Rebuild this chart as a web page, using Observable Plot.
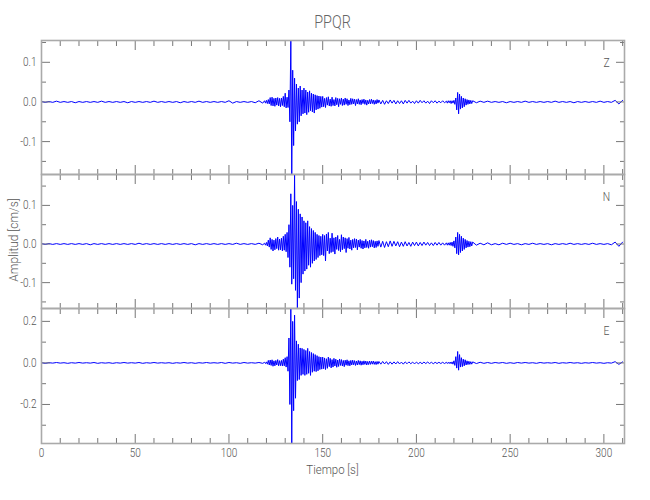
<!DOCTYPE html>
<html><head><meta charset="utf-8">
<script src="https://cdn.jsdelivr.net/npm/d3@7"></script>
<script src="https://cdn.jsdelivr.net/npm/@observablehq/plot@0.6"></script>
<style>
body{margin:0;background:#fff;}
#wrap{position:relative;width:650px;height:500px;font-family:Roboto,"DejaVu Sans",sans-serif;font-weight:300;color:#555;}
#title{position:absolute;left:41px;width:583px;top:11px;text-align:center;font-size:18px;line-height:22px;transform:scaleX(0.8);color:#666;}
.panel{position:absolute;left:0;}
#ylab{position:absolute;left:13px;top:240px;transform:translate(-50%,-50%) rotate(-90deg) scaleX(0.92);font-size:13px;white-space:nowrap;}
#xlab{position:absolute;left:41px;width:583px;top:462px;text-align:center;font-size:13px;transform:scaleX(0.88);}
</style></head>
<body><div id="wrap"><div id="title">PPQR</div><div id="ylab">Amplitud [cm/s]</div><div id="xlab">Tiempo [s]</div></div>
<script>
// Sample times (s): quiet parts every 2 s, event windows every 0.5 s, late coda every 1 s
const times = [].concat(
  d3.range(0, 120, 2), d3.range(119, 150.5, 0.5), d3.range(150.5, 180.5, 0.5),
  d3.range(181, 217, 1), d3.range(216.5, 230.5, 0.5), d3.range(232, 311, 2));

// Peak amplitudes, in units of 0.001 cm/s
const zAmp = [
  1,-1,1,-1,2,-1,1,-1,1,-2, 1,-1,1,-1,1,-1,2,-1,1,-1, 1,-1,1,-2,1,-1,1,-1,1,-1,
  2,-1,1,-1,1,-1,1,-2,1,-1, 1,-1,2,-1,1,-1,1,-1,1,-1, 3,-3,1,-1,1,-1,1,-2,3,-3,
  3,-3,4,-4,6,-5, 11,-9,12,-10,9,-11,10,-8,11,-10,9,-12, 10,-9,14,-12,22,-15,12,-14,
  30,-50,155,-183,80,-110,60,-73, 45,-56,35,-50,40,-35,30,-30, 35,-28,30,-32,25,-26,28,-22,
  22,-25,20,-28,18,-20,16,-18, 15,-16,14,-13,14,
  -12,9,-14,11,-8,13,-10,7,-11,12, -9,6,-10,11,-7,9,-12,8,-6,10, -9,7,-8,10,-6,8,-9,5,-7,9,
  -6,8,-5,7,-9,6,-5,8,-6,5, -7,6,-4,7,-6,5,-8,4,-5,6, -5,7,-4,5,-6,4,-5,6,-3,5,
  -5,4,-6,3,-4,5,-3,4,-5,3, -4,3,-5,4,-3,4,-3,2,-4,3, -3,4,-2,3,-3,2,-4,3,-2,3, -3,2,-2,3,-2,2,
  -3,3,-2,3,-4,3,-3, 4,-6,10, -20,24,-30,20,-18, 14,-15,10,-12,8, -8,6,-6,5,-5,4,-4,3,
  -2,2,-1,2,-1,1,-1,1,-2,1, -1,1,-1,2,-1,1,-1,1,-1,1, -1,2,-1,1,-1,1,-2,1,-1,1, -1,1,-1,2,-1,1,-1,4,-5,4
];
const nAmp = [
  1,-1,1,-1,1,-1,1,-1,1,-1, 1,-1,1,-2,1,-1,1,-1,1,-1, 1,-1,1,-1,1,-1,2,-1,1,-1,
  1,-1,1,-1,1,-1,1,-1,1,-1, 1,-2,1,-1,1,-1,1,-1,1,-1, 1,-1,2,-1,1,-1,1,-1,2,-2,
  2,-3,4,-5,10,-8, 16,-14,12,-18,10,-15,14,-12,18,-16,13,-15, 15,-18,20,-16,25,-20,30,-35,
  50,-60,130,-104,100,-90,180,-120, 110,-167,90,-140,78,-100,70,-78, 60,-70,55,-65,60,-55,45,-60,
  40,-50,35,-44,30,-40,25,-35, 22,-30,20,-28,25,
  -30,22,-44,26,-18,30,-25,15,-22,28, -20,16,-26,18,-14,22,-17,12,-20,24, -15,18,-12,16,-22,14,-11,17,-13,10,
  -16,12,-10,14,-9,13,-15,10,-8,12, -11,9,-13,8,-10,12,-9,7,-11,10, -8,11,-7,9,-10,7,-9,8,-6,9,
  -8,7,-9,6,-7,8,-6,7,-5,6, -7,5,-6,6,-5,4,-6,5,-4,5, -5,4,-4,5,-3,4,-4,3,-4,4, -3,4,-3,3,-3,3,
  -3,3,-3,4,-4,5,-6, 8,-10,18, -25,30,-28,25,-22, 20,-18,15,-14,12, -10,9,-8,7,-7,6,-5,5,
  -3,2,-2,3,-2,1,-2,2,-1,2, -1,1,-2,1,-1,2,-1,1,-1,1, -2,1,-1,1,-1,2,-1,1,-1,1, -1,2,-1,1,-1,1,-2,5,-6,5
];
const eAmp = [
  1,-2,1,-1,2,-1,1,-2,1,-1, 2,-1,1,-1,2,-2,1,-1,1,-2, 1,-1,2,-1,1,-1,2,-2,1,-1,
  2,-1,1,-1,1,-2,1,-1,2,-1, 1,-2,1,-1,2,-1,1,-1,2,-2, 2,-1,1,-2,2,-1,1,-1,2,-2,
  3,-3,5,-6,12,-10, 14,-12,15,-16,10,-14,12,-10,16,-14,11,-13, 12,-15,18,-14,25,-20,30,-40,
  120,-200,262,-388,200,-230,230,-170, 106,-85,90,-80,72,-60,70,-55, 65,-60,60,-55,70,-50,55,-60,
  50,-45,45,-40,40,-42,35,-38, 30,-32,28,-30,28,
  -28,24,-32,20,-26,28,-18,22,-24,16, -20,22,-15,18,-21,14,-17,19,-12,16, -15,12,-18,13,-11,15,-13,10,-14,12,
  -10,13,-9,11,-12,9,-10,12,-8,10, -11,8,-9,10,-7,9,-10,7,-8,9, -7,8,-6,9,-7,6,-8,7,-6,7,
  -6,7,-5,6,-7,5,-6,5,-5,6, -5,4,-6,5,-4,5,-4,4,-5,4, -4,3,-4,4,-3,4,-3,3,-4,3, -3,3,-3,3,-3,3,
  -3,3,-3,4,-4,5,-6, 10,-12,30, -25,55,-35,40,-20, 25,-18,18,-14,15, -10,10,-8,8,-7,6,-6,5,
  -3,3,-2,2,-2,2,-1,2,-2,1, -2,2,-1,2,-1,1,-2,2,-1,1, -1,2,-2,1,-1,2,-1,1,-2,1, -1,2,-1,1,-2,1,-1,6,-7,5
];

const channels = ["Z", "N", "E"];
const xDomain = [0, 311];
const xMajor = [0, 50, 100, 150, 200, 250, 300];
const xMinor = [10, 20, 30, 40, 60, 70, 80, 90, 110, 120, 130, 140, 160, 170, 180, 190, 210, 220, 230, 240, 260, 270, 280, 290, 310];
const yMajor = {Z: [-0.1, 0, 0.1], N: [-0.1, 0, 0.1], E: [-0.2, 0, 0.2]};
const yMinor = {Z: [-0.15, -0.05, 0.05, 0.15], N: [-0.15, -0.05, 0.05, 0.15], E: [-0.3, -0.1, 0.1]};

// layout (px)
const layout = {Z: {top: 40, bottom: 174}, N: {top: 174, bottom: 308}, E: {top: 308, bottom: 443}};
const amps = {Z: zAmp, N: nAmp, E: eAmp};

const wrap = document.getElementById("wrap");
const FONT = 'Roboto,"DejaVu Sans",sans-serif';
const tickCol = "#777";
const fmt = v => d3.format(".1f")(v).replace("\u2212", "-");

channels.forEach((ch, k) => {
  const a = amps[ch];
  if (a.length !== times.length) throw new Error(ch + " length " + a.length + " vs " + times.length);
  const data = times.map((t, i) => ({t, v: a[i] / 1000}));
  const L = layout[ch];
  const last = k === channels.length - 1;
  const mb = last ? 30 : 1;
  const big = 9, small = 5;
  const tk = (fn, ticks, anchor, size, shift) => fn(ticks, {anchor, tickSize: size, fill: "none", stroke: tickCol, strokeWidth: 1,
    ...(fn === Plot.axisY ? {dx: shift} : {dy: shift}), label: null});
  const marks = [
    Plot.line(data, {x: "t", y: "v", stroke: "#0000ff", strokeWidth: 1, clip: true}),
    tk(Plot.axisY, yMajor[ch], "left", big, big),
    tk(Plot.axisY, yMinor[ch], "left", small, small),
    tk(Plot.axisY, yMajor[ch], "right", big, -big),
    tk(Plot.axisY, yMinor[ch], "right", small, -small),
    tk(Plot.axisX, xMajor, "top", big, big),
    tk(Plot.axisX, xMinor, "top", small, small),
    tk(Plot.axisX, xMajor, "bottom", big, -big),
    tk(Plot.axisX, xMinor, "bottom", small, -small),
    Plot.axisY(yMajor[ch], {anchor: "left", tickSize: 0, tickPadding: 5, tickFormat: fmt, label: null, fill: "#555"}),
    Plot.frame({stroke: "#aaa", strokeWidth: 1.6}),
    Plot.text([ch], {frameAnchor: "top-right", dx: -18, dy: 22, text: d => d, textAnchor: "middle", lineAnchor: "middle", fontSize: 13, fill: "#555"})
  ];
  if (last) marks.push(Plot.axisX(xMajor, {anchor: "bottom", tickSize: 0, tickPadding: 5, label: null, fill: "#555"}));
  const svg = Plot.plot({
    width: 650, height: (L.bottom - L.top) + 1 + mb,
    marginLeft: 41, marginRight: 26, marginTop: 1, marginBottom: mb,
    x: {domain: xDomain},
    y: {domain: d3.extent(data, d => d.v)},
    style: {fontFamily: FONT, fontWeight: 300, fontSize: "12.5px", color: "#555", background: "transparent", overflow: "visible"},
    marks
  });
  // narrow the glyphs (the reference uses a condensed stroke font)
  d3.select(svg).selectAll("text").each(function () {
    const tr = this.getAttribute("transform") || "";
    this.setAttribute("transform", tr + " scale(0.8,1)");
  });
  svg.classList.add("panel");
  svg.style.top = (L.top - 1) + "px";
  svg.style.position = "absolute";
  wrap.appendChild(svg);
});
</script></body></html>
